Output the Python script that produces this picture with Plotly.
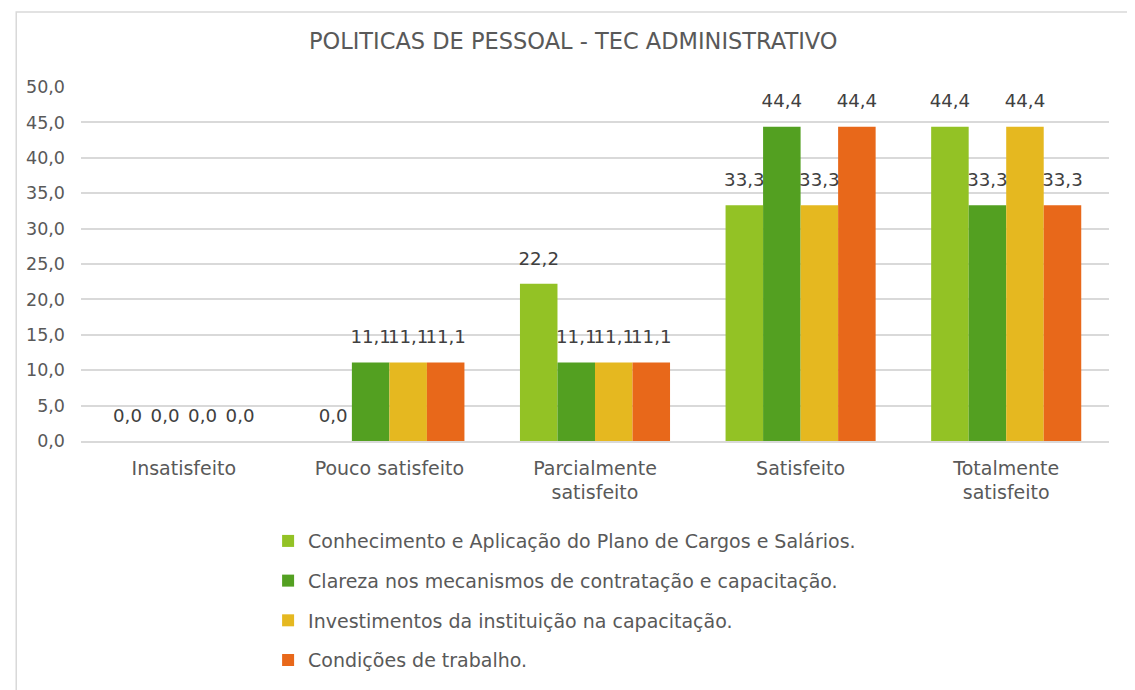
import plotly.graph_objects as go

categorias = ["Insatisfeito", "Pouco satisfeito", "Parcialmente<br>satisfeito",
              "Satisfeito", "Totalmente<br>satisfeito"]

series = [
    "Conhecimento e Aplicação do Plano de Cargos e Salários.",
    "Clareza nos mecanismos de contratação e capacitação.",
    "Investimentos da instituição na capacitação.",
    "Condições de trabalho.",
]

conhecimento = [0.0, 0.0, 22.2, 33.3, 44.4]
clareza = [0.0, 11.1, 11.1, 44.4, 33.3]
investimentos = [0.0, 11.1, 11.1, 33.3, 44.4]
condicoes = [0.0, 11.1, 11.1, 44.4, 33.3]

valores = [conhecimento, clareza, investimentos, condicoes]
cores = ["#93C225", "#53A021", "#E5B820", "#E8681A"]

fonte = "DejaVu Sans"
cinza = "#595959"

fig = go.Figure()
for nome, vals, cor in zip(series, valores, cores):
    fig.add_trace(go.Bar(
        x=categorias, y=vals, name=nome, legendgroup=nome,
        marker=dict(color=cor, line=dict(width=0)),
    ))
# rotulos como scatter agrupado, para ter mais espaco acima das barras
for nome, vals in zip(series, valores):
    fig.add_trace(go.Scatter(
        x=categorias, y=vals, mode="markers+text", showlegend=False,
        legendgroup=nome, hoverinfo="skip",
        marker=dict(size=22, color="rgba(0,0,0,0)"),
        texttemplate="%{y:.1f}", textposition="top center",
        textfont=dict(size=18.2, color="#404040", family=fonte),
        cliponaxis=False,
    ))

# a pagina tem 8px de margem no body, por isso as margens estao compensadas
fig.update_layout(
    width=1135, height=690,
    barmode="group", bargap=0.27, bargroupgap=0,
    scattermode="group", scattergap=0.27,
    separators=",.",
    paper_bgcolor="white", plot_bgcolor="white",
    font=dict(family=fonte, color=cinza, size=18),
    title=dict(text="POLITICAS DE PESSOAL - TEC ADMINISTRATIVO",
               x=0.498, xanchor="center", y=0.952, yanchor="middle",
               font=dict(size=22.5, color=cinza)),
    margin=dict(l=73, r=34, t=79, b=257),
    showlegend=True,
    legend=dict(orientation="v", x=0.182, xanchor="left", y=-0.229, yanchor="top",
                tracegroupgap=12, itemsizing="constant",
                font=dict(size=19, color=cinza, family=fonte)),
    shapes=[dict(type="rect", xref="paper", yref="paper",
                 x0=-0.063, x1=1.03, y0=-0.75, y1=1.212,
                 line=dict(color="#D9D9D9", width=1.5), layer="below")],
)

fig.update_yaxes(range=[0, 50], dtick=5, tickformat=".1f",
                 showgrid=True, gridcolor="#D9D9D9", gridwidth=1.5,
                 zeroline=False, showline=False, ticks="",
                 tickfont=dict(size=17.5, color=cinza), ticklabelstandoff=15)
fig.update_xaxes(showline=True, linecolor="#D9D9D9", linewidth=1.5, ticks="",
                 tickfont=dict(size=19, color=cinza), ticklabelstandoff=9)

fig.write_html("out.html")
